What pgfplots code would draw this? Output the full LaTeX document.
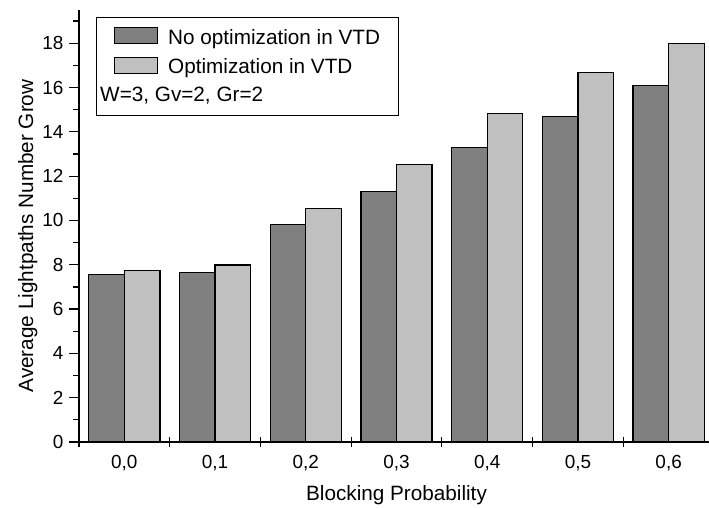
\documentclass[border=0pt]{standalone}
\usepackage{pgfplots}
\pgfplotsset{compat=1.18}
\usepackage{fontspec}
\setmainfont{Liberation Sans}

\definecolor{darkbar}{HTML}{808080}
\definecolor{lightbar}{HTML}{C0C0C0}

\begin{document}
\begin{tikzpicture}
\useasboundingbox (0,0) rectangle (709bp,508bp);
\begin{axis}[
  at={(79bp,66bp)}, anchor=south west,
  width=635bp, height=432bp, scale only axis,
  xmin=-0.5, xmax=6.5, ymin=0, ymax=19.5,
  axis x line=bottom, axis y line=left,
  axis line style={-, line width=1.2bp, black},
  ybar=0pt, bar width=0.392,
  xtick={-0.5,0.5,...,6.5},
  x tick label as interval,
  xticklabels={{0,0},{0,1},{0,2},{0,3},{0,4},{0,5},{0,6}},
  ytick={0,2,...,18},
  minor ytick={1,3,...,19},
  tick align=outside,
  major tick length=10bp, minor tick length=6bp,
  tick style={line width=1.2bp, black},
  x tick style={yshift=5bp},
  /pgf/number format/assume math mode=true,
  ticklabel style={font=\fontsize{19}{21}\selectfont},
  yticklabel style={xshift=-2bp},
  xlabel={Blocking Probability},
  ylabel={Average Lightpaths Number Grow},
  label style={font=\fontsize{20.8}{24}\selectfont},
  xlabel style={at={(axis description cs:0.5,-0.136)}, anchor=base},
  ylabel style={at={(axis description cs:-0.0724,0.477)}, anchor=base},
  legend image code/.code={\draw[#1, line width=1bp] (0bp,0.5bp) rectangle (43bp,16.5bp);},
  legend style={at={(rel axis cs:0.0263,0.983)}, anchor=north west,
    draw=black, line width=1bp, inner xsep=18bp, inner ysep=9.5bp,
    font=\fontsize{20.8}{24}\selectfont, row sep=8bp, column sep=10bp,
    nodes={inner sep=0pt, text height=15bp, text depth=4.5bp, anchor=base west}},
]
\addplot[fill=darkbar, draw=black, line width=1.2bp] coordinates {
  (0,7.55) (1,7.66) (2,9.81) (3,11.32) (4,13.29) (5,14.71) (6,16.09)
};
\addlegendentry{No optimization in VTD\hspace{6bp}}
\addplot[fill=lightbar, draw=black, line width=1.2bp] coordinates {
  (0,7.73) (1,7.99) (2,10.55) (3,12.52) (4,14.82) (5,16.68) (6,18.00)
};
\addlegendentry{Optimization in VTD}
\addlegendimage{empty legend}
\addlegendentry{\hspace{-68bp}W=3, Gv=2, Gr=2}
\end{axis}
\end{tikzpicture}
\end{document}
